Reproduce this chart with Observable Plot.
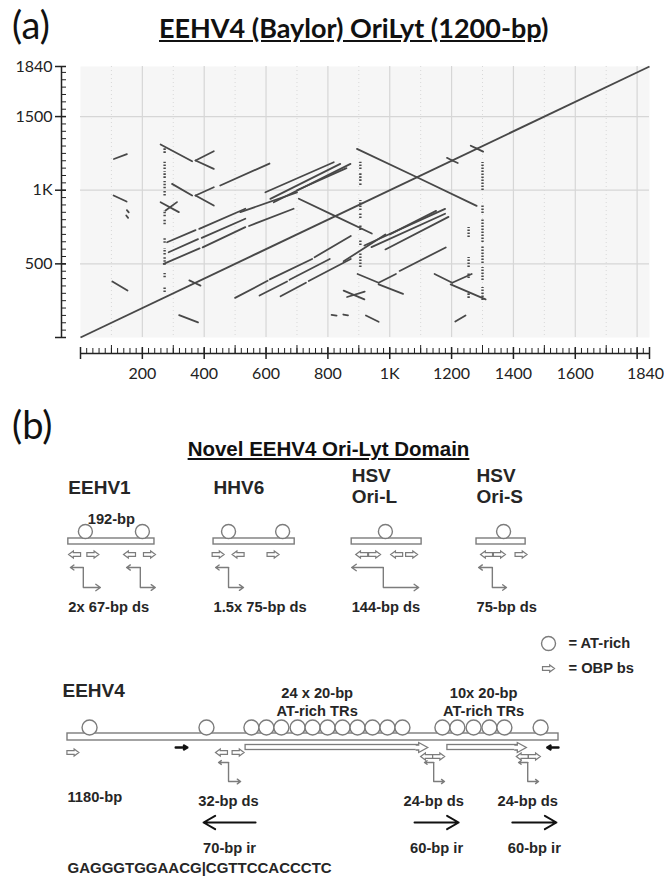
<!DOCTYPE html>
<html>
<head>
<meta charset="utf-8">
<script src="https://cdn.jsdelivr.net/npm/d3@7"></script>
<script src="https://cdn.jsdelivr.net/npm/@observablehq/plot@0.6"></script>
<style>
  html, body { margin: 0; padding: 0; background: #fff; }
  #fig { position: relative; width: 664px; height: 880px; overflow: hidden; background: #fff; }
  .abs { position: absolute; }
  .tag { font-family: Lato, "Open Sans", sans-serif; font-size: 38px; line-height: 1; color: #111; }
  .titleA { font-family: Lato, "Open Sans", sans-serif; font-weight: 700; font-size: 27px; line-height: 1; color: #111; white-space: nowrap; }
  .titleB { font-family: "Liberation Sans", Arial, sans-serif; font-weight: 700; font-size: 20.5px; line-height: 1; color: #111; white-space: nowrap; text-align: center; }
</style>
</head>
<body>
<div id="fig">
  <div class="abs tag" style="left:12px;top:5px">(a)</div>
  <div class="abs titleA" style="left:159px;top:14px"><span style="text-decoration:underline">EEHV4 (Baylor) OriLyt (1200-bp</span>)</div>
  <div id="plotA" class="abs" style="left:0;top:40px"></div>
  <div class="abs tag" style="left:12px;top:405px">(b)</div>
  <div class="abs titleB" style="left:0;width:657px;top:439px"><span style="text-decoration:underline">Novel EEHV4 Ori-Lyt Domain</span></div>
  <div id="plotB" class="abs" style="left:0;top:460px"></div>
</div>
<script>
// ================= (a) self dot plot of the EEHV4 OriLyt (bp) =================
const seqLength = 1840;
const xTickValues = [200, 400, 600, 800, 1000, 1200, 1400, 1600];
const xTickLabels = ["200", "400", "600", "800", "1K", "1200", "1400", "1600"];
const xEndLabel = ["1840"];
const yTickValues = [0, 500, 1000, 1500, 1840];
const yTickLabels = ["", "500", "1K", "1500", "1840"];
const xGridValues = [200, 400, 600, 800, 1000, 1200, 1400, 1600, 1800];
const xGridMinorValues = [100, 300, 500, 700, 900, 1100, 1300, 1500, 1700];
const yGridValues = [500, 1000, 1500];

const mainDiagonal = [[0, 0, 1840, 1840]];
// upper-triangle matches [x1, y1, x2, y2]; the self comparison is mirrored below the diagonal
const directMatches = [
  [108, 1212, 150, 1245],
  [372, 1202, 431, 1265],
  [372, 964, 431, 1020],
  [275, 862, 312, 919],
  [452, 1032, 611, 1181],
  [269, 500, 385, 605], [395, 612, 533, 749], [545, 757, 689, 874],
  [285, 579, 380, 668], [392, 676, 533, 806],
  [280, 647, 372, 729], [384, 738, 533, 874],
  [598, 986, 819, 1190],
  [614, 941, 840, 1179],
  [625, 918, 873, 1179],
  [517, 851, 700, 986],
  [700, 1000, 860, 1150]
];
const invertedMatches = [
  [107, 964, 149, 923],
  [103, 380, 152, 319],
  [259, 1310, 361, 1197],
  [372, 1202, 431, 1145],
  [296, 1043, 361, 964],
  [372, 964, 431, 896],
  [259, 918, 318, 851],
  [706, 942, 824, 824],
  [894, 1281, 1088, 1088],
  [352, 388, 370, 370],
  [1185, 1220, 1202, 1202],
  [1262, 1302, 1282, 1282]
];
const tinyMatches = [
  [150, 865, 156, 850],
  [148, 828, 154, 812]
];
// low-complexity columns: [x, yFrom, yTo]
const repeatColumns = [
  [272, 1250, 1283], [272, 1140, 1190], [272, 1080, 1125], [272, 1010, 1060], [272, 960, 995],
  [272, 820, 862], [272, 765, 800], [272, 640, 680], [272, 560, 605], [272, 490, 545],
  [272, 405, 435], [272, 305, 340],
  [905, 1140, 1190], [905, 1060, 1120], [905, 1032, 1050], [905, 862, 930], [905, 808, 842],
  [905, 726, 760], [905, 624, 658], [905, 475, 577],
  [1255, 679, 747], [1255, 475, 543], [1255, 400, 441], [1255, 265, 299],
  [1300, 998, 1188], [1300, 842, 896], [1300, 645, 808], [1300, 502, 625], [1300, 387, 475], [1300, 251, 340]
];

const mirror = s => [s[1], s[0], s[3], s[2]];
const dotSegments = [...directMatches, ...invertedMatches, ...tinyMatches].flatMap(s => [s, mirror(s)]);
const xLabelOf = new Map(xTickValues.map((v, i) => [v, xTickLabels[i]]));
const yLabelOf = new Map(yTickValues.map((v, i) => [v, yTickLabels[i]]));
const xMinor = d3.range(0, seqLength + 1, 20);
const xMid = d3.range(100, seqLength, 200);
const xMajor = [0, ...xGridValues, seqLength];
const yMinor = d3.range(0, seqLength + 1, 50);

const ink = "#484848";
const axisInk = "#222";
const plotA = Plot.plot({
  width: 664, height: 360,
  marginLeft: 80, marginRight: 15, marginTop: 26, marginBottom: 63,
  x: {domain: [0, seqLength]},
  y: {domain: [0, seqLength]},
  style: {fontFamily: "Lato, 'Open Sans', sans-serif", overflow: "visible", background: "transparent"},
  marks: [
    Plot.frame({fill: "#f6f6f6", stroke: null}),
    Plot.gridX(xGridMinorValues, {stroke: "#d8d8d8", strokeOpacity: 1, strokeDasharray: "1,3"}),
    Plot.gridX(xGridValues, {stroke: "#d6d6d6", strokeOpacity: 1, strokeWidth: 1.2}),
    Plot.gridY(yGridValues, {stroke: "#d6d6d6", strokeOpacity: 1, strokeWidth: 1.2}),
    // y ruler
    Plot.ruleX([0], {y1: 0, y2: seqLength, dx: -19, stroke: axisInk, strokeWidth: 1.5}),
    Plot.axisY(yMinor, {anchor: "left", tickSize: 5, dx: -14, tickFormat: () => "", stroke: axisInk}),
    Plot.axisY(yTickValues, {anchor: "left", tickSize: 11, tickPadding: 3, dx: -14, tickFormat: d => yLabelOf.get(d),
      stroke: axisInk, strokeWidth: 1.5, fill: axisInk, fontSize: 16}),
    // x ruler
    Plot.ruleY([0], {x1: 0, x2: seqLength, dy: 16, stroke: axisInk, strokeWidth: 1.5}),
    Plot.axisX(xMinor, {anchor: "bottom", tickSize: 5, dy: 11, tickFormat: () => "", stroke: axisInk}),
    Plot.axisX(xMid, {anchor: "bottom", tickSize: 8, dy: 8, tickFormat: () => "", stroke: axisInk}),
    Plot.axisX(xMajor, {anchor: "bottom", tickSize: 12, dy: 10, tickFormat: () => "", stroke: axisInk, strokeWidth: 1.5}),
    Plot.axisX(xTickValues, {anchor: "bottom", tickSize: 0, tickPadding: 0, dy: 30, tickFormat: d => xLabelOf.get(d),
      fill: axisInk, fontSize: 16}),
    Plot.text(xEndLabel, {x: seqLength, frameAnchor: "bottom", dy: 30, dx: -4, lineAnchor: "top", text: d => d, fill: axisInk, fontSize: 16}),
    // matches
    Plot.ruleX(repeatColumns, {x: d => d[0], y1: d => d[1], y2: d => d[2], stroke: ink, strokeWidth: 2.4, strokeDasharray: "1.6,1.4"}),
    Plot.link(dotSegments, {x1: d => d[0], y1: d => d[1], x2: d => d[2], y2: d => d[3], stroke: ink, strokeWidth: 1.8, strokeLinecap: "round"}),
    Plot.link(mainDiagonal, {x1: d => d[0], y1: d => d[1], x2: d => d[2], y2: d => d[3], stroke: ink, strokeWidth: 1.9})
  ]
});
document.getElementById("plotA").append(plotA);

// ================= (b) schematic of Ori-Lyt domains (common bp ruler) =================
const refNames = [["EEHV1"], ["HHV6"], ["HSV", "Ori-L"], ["HSV", "Ori-S"]];
const refStart = [2, 351, 683, 983];
const refEnd = [209, 546, 851, 1101];
const refSizeLabels = ["192-bp", "", "", ""];
const refDsLabels = ["2x 67-bp ds", "1.5x 75-bp ds", "144-bp ds", "75-bp ds"];
const refAtRich = [43, 180, 387, 517, 764, 1048];
const refObp = [[17, "L"], [61, "R"], [149, "L"], [197, "R"], [362, "R"], [410, "L"], [494, "R"],
                [707, "L"], [738, "R"], [791, "L"], [827, "R"], [1007, "L"], [1038, "R"], [1090, "R"]];
const refDs = [[7, 38, 79], [142, 175, 211], [356, 387, 423], [683, 759, 844], [988, 1021, 1055]];

const eehv4Length = 1180;
const eehv4AtRich = [53, 334, 442, 478, 514, 553, 589, 625, 661, 697, 733, 769, 805, 901, 937, 976, 1014, 1050, 1137];
const eehv4Obp = [[13, "R"], [370, "L"], [410, "R"], [863, "L"], [892, "R"], [1093, "L"], [1122, "R"]];
const eehv4TRs = [[428, 844], [913, 1081]];
const eehv4TrLabels = [["24 x 20-bp", "AT-rich TRs"], ["10x 20-bp", "AT-rich TRs"]];
const eehv4TrLabelAt = [600, 1000];
const eehv4Ds = [[363, 387, 416], [858, 880, 906], [1084, 1106, 1132]];
const eehv4DsLabels = ["32-bp ds", "24-bp ds", "24-bp ds"];
const eehv4Ir = [[452, 327], [834, 940], [1069, 1175]];
const eehv4IrLabels = ["70-bp ir", "60-bp ir", "60-bp ir"];
const eehv4Primers = [[260, 288], [1180, 1153]];
const irSequence = "GAGGGTGGAACG|CGTTCCACCCTC";
const legendLabels = ["= AT-rich", "= OBP bs"];

const gray = "#7c7c7c";
const dark = "#262626";
const bold = {fontWeight: "bold", fill: dark};
const labelSize = 14.7;
const rowRef = {size: 59, circle: 71, barTop: 78, barBottom: 84, obp: 94, dsTop: 107, dsBottom: 127, dsLabel: 147};
const rowLegend = [183, 208];
const rowE4 = {name: 230, trLine: [233, 251], circle: 267, barTop: 273, barBottom: 280, arrow: 287, obp: 292,
               dsTop: 302, dsBottom: 321, size: 337, dsLabel: 341, ir: 362, irLabel: 388, seq: 408};
const legendSymbolAt = 1156, legendTextAt = 1204;

// hollow block arrow (pointing right) used for OBP binding sites
const hollowArrow = {
  draw(ctx, size) {
    const r = Math.sqrt(size / Math.PI);
    const h1 = r * 0.3, h2 = r * 0.6, hx = r * 0.2;
    ctx.moveTo(-r, -h1); ctx.lineTo(hx, -h1); ctx.lineTo(hx, -h2); ctx.lineTo(r, 0);
    ctx.lineTo(hx, h2); ctx.lineTo(hx, h1); ctx.lineTo(-r, h1); ctx.closePath();
  }
};
// open-backed arrow head for the long TR arrows (anchored at the end of the shaft)
const trHead = {
  draw(ctx, size) {
    const r = Math.sqrt(size / Math.PI);
    ctx.moveTo(-3, -2.5); ctx.lineTo(0, -2.5); ctx.lineTo(0, -r * 0.55); ctx.lineTo(r, 0);
    ctx.lineTo(0, r * 0.55); ctx.lineTo(0, 2.5); ctx.lineTo(-3, 2.5);
  }
};

// dyad-symmetry (ds) bent arrows: vertical stem plus two arrow-tipped arms
const stems = (list, top, bottom) => list.map(d => ({x: d[1], y1: top, y2: bottom}));
const arms = (list, top, bottom) => list.flatMap(d => [
  {x1: d[1], x2: d[0], y: top}, {x1: d[1], x2: d[2], y: bottom}]);
const nameLines = refNames.flatMap((lines, i) => lines.map((t, j) => ({
  text: t, x: refStart[i], y: lines.length === 1 ? 27 : [15, 36][j]})));
const trLabelLines = eehv4TrLabels.flatMap((lines, i) => lines.map((t, j) => ({text: t, x: eehv4TrLabelAt[i], y: rowE4.trLine[j]})));
const armStyle = {x1: "x1", x2: "x2", y1: "y", y2: "y", stroke: gray, strokeWidth: 1.4, headLength: 6, headAngle: 70};
const stemStyle = {x: "x", y1: "y1", y2: "y2", stroke: gray, strokeWidth: 1.4};

const plotB = Plot.plot({
  width: 664, height: 420,
  marginLeft: 67, marginRight: 106, marginTop: 0, marginBottom: 0,
  x: {domain: [0, eehv4Length], axis: null},
  y: {domain: [0, 420], range: [0, 420], axis: null},
  style: {overflow: "visible", background: "transparent", fontFamily: "'Liberation Sans', Arial, sans-serif"},
  marks: [
    // ---- reference origins
    Plot.text(nameLines, {x: "x", y: "y", text: "text", textAnchor: "start", fontSize: 19, ...bold}),
    Plot.text(refSizeLabels, {x: (d, i) => (refStart[i] + refEnd[i]) / 2, y: rowRef.size, text: d => d, fontSize: labelSize, ...bold}),
    Plot.rect(refStart, {x1: d => d, x2: (d, i) => refEnd[i], y1: rowRef.barTop, y2: rowRef.barBottom, fill: "white", stroke: gray, strokeWidth: 1.4}),
    Plot.dot(refAtRich, {x: d => d, y: rowRef.circle, r: 7, fill: "white", stroke: gray, strokeWidth: 1.4}),
    Plot.dot(refObp, {x: d => d[0], y: rowRef.obp, r: 6, symbol: hollowArrow, rotate: d => d[1] === "L" ? 180 : 0, fill: "white", stroke: gray, strokeWidth: 1.2}),
    Plot.ruleX(stems(refDs, rowRef.dsTop, rowRef.dsBottom), stemStyle),
    Plot.arrow(arms(refDs, rowRef.dsTop, rowRef.dsBottom), armStyle),
    Plot.text(refDsLabels, {x: (d, i) => refStart[i], y: rowRef.dsLabel, text: d => d, textAnchor: "start", fontSize: labelSize, ...bold}),
    // ---- legend
    Plot.dot([legendLabels[0]], {x: legendSymbolAt, y: rowLegend[0], r: 7, fill: "white", stroke: gray, strokeWidth: 1.4}),
    Plot.dot([legendLabels[1]], {x: legendSymbolAt, y: rowLegend[1], r: 6, symbol: hollowArrow, fill: "white", stroke: gray, strokeWidth: 1.2}),
    Plot.text(legendLabels, {x: legendTextAt, y: (d, i) => rowLegend[i], text: d => d, textAnchor: "start", fontSize: labelSize, ...bold}),
    // ---- EEHV4
    Plot.text(["EEHV4"], {x: -12, y: rowE4.name, text: d => d, textAnchor: "start", fontSize: 19, ...bold}),
    Plot.text(trLabelLines, {x: "x", y: "y", text: "text", fontSize: labelSize, ...bold}),
    Plot.rect([eehv4Length], {x1: 0, x2: d => d, y1: rowE4.barTop, y2: rowE4.barBottom, fill: "white", stroke: gray, strokeWidth: 1.4}),
    Plot.dot(eehv4AtRich, {x: d => d, y: rowE4.circle, r: 7.5, fill: "white", stroke: gray, strokeWidth: 1.4}),
    Plot.rect(eehv4TRs, {x1: d => d[0], x2: d => d[1], y1: rowE4.arrow - 2.5, y2: rowE4.arrow + 2.5, fill: "white", stroke: gray, strokeWidth: 1.3}),
    Plot.dot(eehv4TRs, {x: d => d[1], y: rowE4.arrow, r: 9, symbol: trHead, fill: "white", stroke: gray, strokeWidth: 1.3}),
    Plot.dot(eehv4Obp, {x: d => d[0], y: (d, i) => (i >= 3 ? rowE4.obp + 4 : rowE4.obp), r: 6, symbol: hollowArrow, rotate: d => d[1] === "L" ? 180 : 0, fill: "white", stroke: gray, strokeWidth: 1.2}),
    Plot.arrow(eehv4Primers, {x1: d => d[0], x2: d => d[1], y1: rowE4.arrow, y2: rowE4.arrow, stroke: "#111", strokeWidth: 2.4, headLength: 7}),
    Plot.ruleX(stems(eehv4Ds, rowE4.dsTop, rowE4.dsBottom), stemStyle),
    Plot.arrow(arms(eehv4Ds, rowE4.dsTop, rowE4.dsBottom), armStyle),
    Plot.text(["1180-bp"], {x: 0, y: rowE4.size, text: d => d, textAnchor: "start", fontSize: labelSize, ...bold}),
    Plot.text(eehv4DsLabels, {x: (d, i) => eehv4Ds[i][1], y: rowE4.dsLabel, text: d => d, fontSize: labelSize, ...bold}),
    Plot.arrow(eehv4Ir, {x1: d => d[0], x2: d => d[1], y1: rowE4.ir, y2: rowE4.ir, stroke: "#111", strokeWidth: 2, headLength: 10}),
    Plot.text(eehv4IrLabels, {x: (d, i) => (eehv4Ir[i][0] + eehv4Ir[i][1]) / 2, y: rowE4.irLabel, text: d => d, fontSize: labelSize, ...bold}),
    Plot.text([irSequence], {x: 0, y: rowE4.seq, text: d => d, textAnchor: "start", fontSize: 15, ...bold})
  ]
});
document.getElementById("plotB").append(plotB);
</script>
</body>
</html>
